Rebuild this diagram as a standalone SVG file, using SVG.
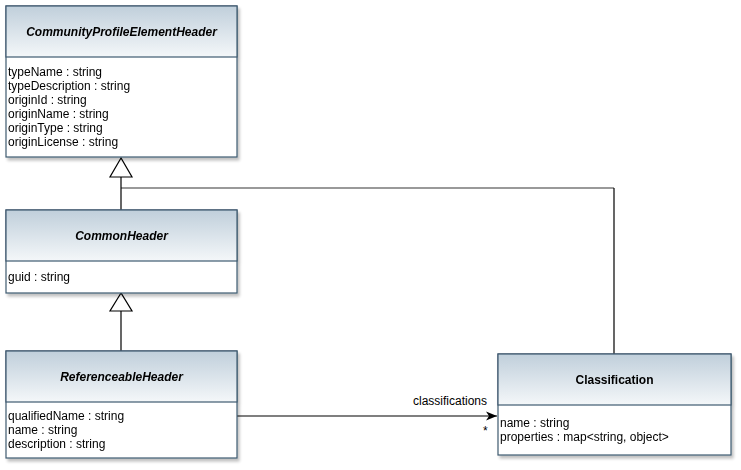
<svg xmlns="http://www.w3.org/2000/svg" width="741" height="470" viewBox="0 0 741 470">
<style>
.box{fill:#ffffff;stroke:#3f5a70;stroke-width:1.2}
.hdr{fill:url(#g);stroke:#3f5a70;stroke-width:1.2}
.title{font-family:"Liberation Sans",Arial,sans-serif;font-size:12px;font-weight:bold;font-style:italic;fill:#000;text-anchor:middle}
.ctitle{font-family:"Liberation Sans",Arial,sans-serif;font-size:12px;font-weight:bold;fill:#000;text-anchor:middle}
.attr{font-family:"Liberation Sans",Arial,sans-serif;font-size:12px;fill:#000}
.lbl{font-family:"Liberation Sans",Arial,sans-serif;font-size:12px;fill:#000}
.edge{fill:none;stroke:#000;stroke-width:1.2}
.edge2{fill:none;stroke:#777;stroke-width:1.5}
.tri{fill:#fff;stroke:#000;stroke-width:1.2}
</style>
<defs>
<linearGradient id="g" x1="0" y1="0" x2="0" y2="1">
<stop offset="0" stop-color="#c0cfdb"/>
<stop offset="1" stop-color="#f4f7f9"/>
</linearGradient>
<filter id="sh" x="-5%" y="-5%" width="115%" height="115%">
<feGaussianBlur in="SourceAlpha" stdDeviation="1.5"/>
<feOffset dx="2" dy="3"/>
<feComponentTransfer><feFuncA type="linear" slope="0.25"/></feComponentTransfer>
<feMerge><feMergeNode/><feMergeNode in="SourceGraphic"/></feMerge>
</filter>
<marker id="arr" markerWidth="12" markerHeight="10" refX="11" refY="5" orient="auto" markerUnits="userSpaceOnUse">
<path d="M0,0.5 L11,5 L0,9.5 L3,5 Z" fill="#000"/>
</marker>
</defs>
<g id="connectors">
<path class="edge2" d="M121,188 H614"/>
<path class="edge" d="M614,188 V354"/>
<path class="edge" d="M121,177 V210"/>
<polygon class="tri" points="121,158 110,177 132,177"/>
<path class="edge" d="M121,311 V351"/>
<polygon class="tri" points="121,293 110,311 132,311"/>
<path class="edge" d="M237,416 H497" marker-end="url(#arr)"/>
<text class="lbl" x="413" y="405">classifications</text>
<text class="lbl" x="483" y="435">*</text>
</g>
<g id="CommunityProfileElementHeader" filter="url(#sh)">
<rect class="box" x="6" y="6" width="231" height="151"/>
<rect class="hdr" x="6" y="6" width="231" height="51"/>
<text class="title" x="121.5" y="36">CommunityProfileElementHeader</text>
<text class="attr" x="8" y="76">typeName : string</text>
<text class="attr" x="8" y="90">typeDescription : string</text>
<text class="attr" x="8" y="104">originId : string</text>
<text class="attr" x="8" y="118">originName : string</text>
<text class="attr" x="8" y="132">originType : string</text>
<text class="attr" x="8" y="146">originLicense : string</text>
</g>
<g id="CommonHeader" filter="url(#sh)">
<rect class="box" x="6" y="210" width="231" height="83"/>
<rect class="hdr" x="6" y="210" width="231" height="51"/>
<text class="title" x="121.5" y="240">CommonHeader</text>
<text class="attr" x="8" y="281">guid : string</text>
</g>
<g id="ReferenceableHeader" filter="url(#sh)">
<rect class="box" x="6" y="351" width="231" height="107"/>
<rect class="hdr" x="6" y="351" width="231" height="51"/>
<text class="title" x="121.5" y="381">ReferenceableHeader</text>
<text class="attr" x="8" y="420">qualifiedName : string</text>
<text class="attr" x="8" y="434">name : string</text>
<text class="attr" x="8" y="448">description : string</text>
</g>
<g id="Classification" filter="url(#sh)">
<rect class="box" x="498" y="354" width="233" height="101"/>
<rect class="hdr" x="498" y="354" width="233" height="51"/>
<text class="ctitle" x="614.5" y="384">Classification</text>
<text class="attr" x="500" y="427">name : string</text>
<text class="attr" x="500" y="441">properties : map&lt;string, object&gt;</text>
</g>
</svg>
